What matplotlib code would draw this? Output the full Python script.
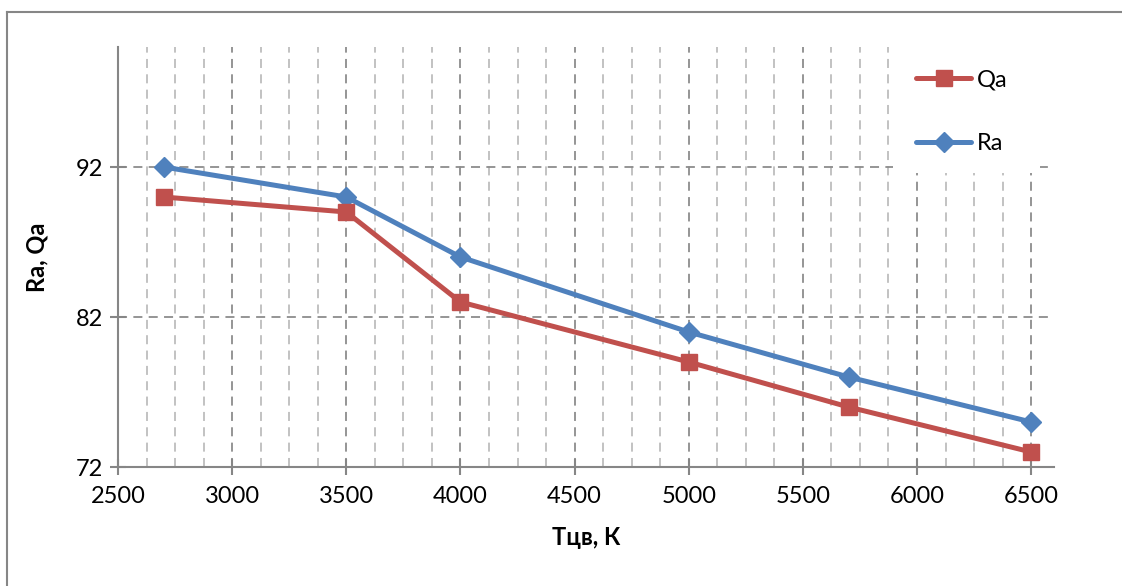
import matplotlib
matplotlib.use("Agg")
import matplotlib.pyplot as plt
from matplotlib.ticker import MultipleLocator
from matplotlib.lines import Line2D
from matplotlib.patches import Rectangle

# Colour temperature, K
temperature = [2700, 3500, 4000, 5000, 5700, 6500]
# Colour rendering indices
qa_values = [90, 89, 83, 79, 76, 73]
ra_values = [92, 90, 86, 81, 78, 75]

x_ticks = [2500, 3000, 3500, 4000, 4500, 5000, 5500, 6000, 6500]
y_ticks = [72, 82, 92]

red = "#C0504D"
blue = "#4F81BD"
axis_gray = "#868686"

plt.rcParams["font.family"] = ["Lato", "DejaVu Sans"]

fig = plt.figure(figsize=(11.22, 5.86), dpi=100)
ax = fig.add_axes([118 / 1122, 1 - 467 / 586, (1054 - 118) / 1122, (467 - 47) / 586])

ax.set_xlim(2500, 6600)
ax.set_ylim(72, 100)
ax.set_xticks(x_ticks)
ax.set_yticks(y_ticks)
ax.xaxis.set_minor_locator(MultipleLocator(125))

ax.grid(which="major", axis="x", color="#8c8c8c", linestyle=(0, (5, 3.5)), linewidth=1.3)
ax.grid(which="minor", axis="x", color="#bdbdbd", linestyle=(0, (5, 3.5)), linewidth=1.3)
ax.grid(which="major", axis="y", color="#8c8c8c", linestyle=(0, (5, 3.5)), linewidth=1.3)
ax.set_axisbelow(True)

for side in ("top", "right"):
    ax.spines[side].set_visible(False)
for side in ("left", "bottom"):
    ax.spines[side].set_color(axis_gray)
    ax.spines[side].set_linewidth(1.5)

fs = 17
ax.tick_params(which="major", direction="inout", length=11, width=1.5, color=axis_gray,
               labelsize=fs, pad=5)
ax.tick_params(which="minor", length=0)
ax.tick_params(axis="x", pad=8)

lw = 3.6
ax.plot(temperature, ra_values, color=blue, linewidth=lw, marker="D", markersize=10,
        label="Ra", zorder=3, solid_capstyle="round")
ax.plot(temperature, qa_values, color=red, linewidth=lw, marker="s", markersize=11.5,
        label="Qa", zorder=3, solid_capstyle="round")

ax.set_xlabel("Тцв, К", fontsize=fs, fontweight="bold", labelpad=14)
ax.set_ylabel("Ra, Qa", fontsize=fs, fontweight="bold", labelpad=20)

# White legend area over the grid
ax.add_patch(Rectangle((5893, 91.6), 6538 - 5893, 100 - 91.6, facecolor="white",
                       edgecolor="none", zorder=2.5))

handles = [
    Line2D([], [], color=red, linewidth=lw, marker="s", markersize=11.5, solid_capstyle="round"),
    Line2D([], [], color=blue, linewidth=lw, marker="D", markersize=10, solid_capstyle="round"),
]
leg = ax.legend(handles, ["Qa", "Ra"], loc="upper left", bbox_to_anchor=(0.843, 0.97),
                frameon=False, fontsize=fs, handlelength=2.3, handletextpad=0.25,
                labelspacing=1.83, borderaxespad=0)
leg.set_zorder(4)

# Chart border
fig.add_artist(Line2D([7 / 1122, 7 / 1122], [0, 1 - 12 / 586], color=axis_gray, linewidth=1.5,
                      transform=fig.transFigure))
fig.add_artist(Line2D([7 / 1122, 1], [1 - 12 / 586, 1 - 12 / 586], color=axis_gray, linewidth=1.5,
                      transform=fig.transFigure))

fig.savefig("out.png", dpi=100)
